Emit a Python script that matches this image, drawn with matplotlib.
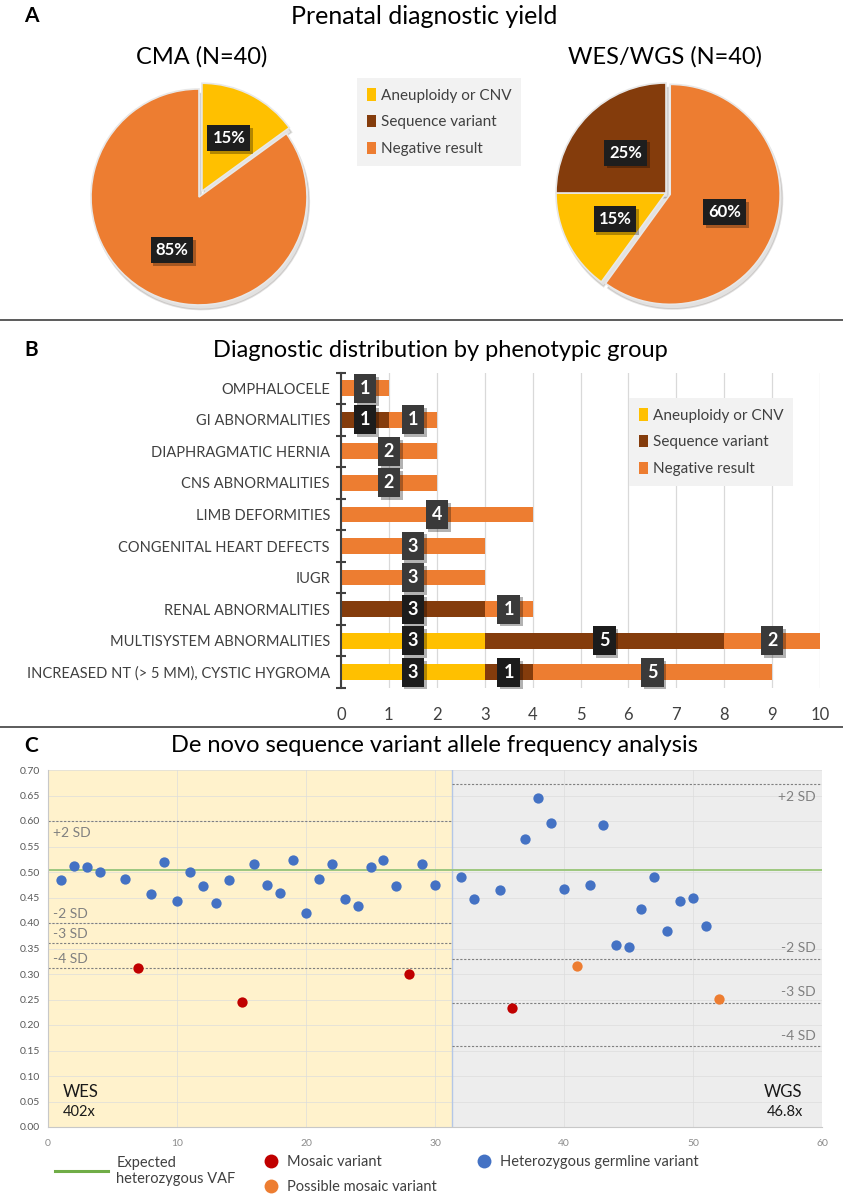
import matplotlib
matplotlib.use("Agg")
import matplotlib.pyplot as plt
import matplotlib.patheffects as pe
from matplotlib.lines import Line2D
from matplotlib.patches import Patch

plt.rcParams["font.family"] = ["Lato", "DejaVu Sans"]

YELLOW = "#FFC000"
BROWN = "#843C0C"
ORANGE = "#ED7D31"
TXT = "#404040"
W, H = 843, 1200

# ---- data -------------------------------------------------------------
RESULTS = ["Aneuploidy or CNV", "Sequence variant", "Negative result"]
RESULT_COLORS = [YELLOW, BROWN, ORANGE]
CMA_COUNTS = [6, 0, 34]      # N=40
WES_COUNTS = [6, 10, 24]     # N=40

GROUPS = ["OMPHALOCELE", "GI ABNORMALITIES", "DIAPHRAGMATIC HERNIA",
          "CNS ABNORMALITIES", "LIMB DEFORMITIES", "CONGENITAL HEART DEFECTS",
          "IUGR", "RENAL ABNORMALITIES", "MULTISYSTEM ABNORMALITIES",
          "INCREASED NT (> 5 MM), CYSTIC HYGROMA"]
ANEU = [0, 0, 0, 0, 0, 0, 0, 0, 3, 3]
SEQ = [0, 1, 0, 0, 0, 0, 0, 3, 5, 1]
NEG = [1, 1, 2, 2, 4, 3, 3, 1, 2, 5]

WES_GERM_X = [1, 2, 3, 4, 6, 8, 9, 10, 11, 12, 13, 14, 16, 17, 18, 19, 20,
              21, 22, 23, 24, 25, 26, 27, 29, 30]
WES_GERM_Y = [0.484, 0.512, 0.510, 0.500, 0.486, 0.457, 0.520, 0.443, 0.500,
              0.472, 0.439, 0.485, 0.515, 0.474, 0.459, 0.523, 0.419, 0.486,
              0.516, 0.447, 0.433, 0.510, 0.524, 0.472, 0.516, 0.474]
WES_MOS_X = [7, 15, 28]
WES_MOS_Y = [0.311, 0.246, 0.300]
WGS_GERM_X = [32, 33, 35, 37, 38, 39, 40, 42, 43, 44, 45, 46, 47, 48, 49, 50, 51]
WGS_GERM_Y = [0.490, 0.447, 0.465, 0.565, 0.645, 0.597, 0.466, 0.474, 0.592,
              0.357, 0.353, 0.428, 0.490, 0.384, 0.444, 0.450, 0.394]
WGS_MOS_X = [36]
WGS_MOS_Y = [0.233]
WGS_POSS_X = [41, 52]
WGS_POSS_Y = [0.315, 0.251]

EXPECTED_VAF = 0.503
SPLIT = 31.3
WES_SD = [("+2 SD", 0.600), ("-2 SD", 0.400), ("-3 SD", 0.360), ("-4 SD", 0.312)]
WGS_SD = [("+2 SD", 0.672), ("-2 SD", 0.330), ("-3 SD", 0.244), ("-4 SD", 0.159)]


def fx(px):
    return px / W


def fy(py):
    return 1 - py / H


def box_shadow(t):
    t.get_bbox_patch().set_path_effects(
        [pe.withSimplePatchShadow(offset=(2, -2), shadow_rgbFace="#000000", alpha=0.3), pe.Normal()])


fig = plt.figure(figsize=(W / 100, H / 100), dpi=100)
fig.patch.set_facecolor("white")

# ---- panel A ----------------------------------------------------------
fig.text(fx(24), fy(16), "A", fontsize=15, fontweight="bold", va="center")
fig.text(fx(424), fy(16), "Prenatal diagnostic yield", fontsize=18, va="center", ha="center")


def draw_pie(ax, order, counts, explode_idx, expl, pctd):
    vals = [counts[i] for i in order]
    cols = [RESULT_COLORS[i] for i in order]
    ex = [expl if i == explode_idx else 0 for i in order]
    wedges, _, autos = ax.pie(vals, colors=cols, startangle=90, counterclock=False,
                              explode=ex, autopct=lambda p: f"{p:.0f}%", pctdistance=pctd,
                              wedgeprops=dict(edgecolor="#e8e8e8", linewidth=1.2),
                              shadow=dict(ox=0.015, oy=-0.03, shade=0.9, alpha=0.12))
    for t in autos:
        t.set_color("white")
        t.set_fontsize(12)
        t.set_fontweight("bold")
        t.set_bbox(dict(boxstyle="square,pad=0.3", facecolor="#1e1e1e", edgecolor="none"))
        box_shadow(t)
    ax.set_xlim(-1.1, 1.1)
    ax.set_ylim(-1.1, 1.1)
    ax.set_aspect("equal")
    ax.axis("off")


r1 = 108
ax_cma = fig.add_axes([fx(199 - 1.1 * r1), fy(197 + 1.1 * r1), fx(2.2 * r1), 2.2 * r1 / H])
draw_pie(ax_cma, [0, 2], CMA_COUNTS, 0, 0.06, 0.55)
fig.text(fx(202), fy(57), "CMA (N=40)", fontsize=17, ha="center", va="center")

r2 = 110
ax_wes = fig.add_axes([fx(666 - 1.1 * r2), fy(193 + 1.1 * r2), fx(2.2 * r2), 2.2 * r2 / H])
draw_pie(ax_wes, [2, 0, 1], WES_COUNTS, 2, 0.04, 0.52)
fig.text(fx(665), fy(57), "WES/WGS (N=40)", fontsize=17, ha="center", va="center")

sq_handles = [Patch(facecolor=c, edgecolor="none") for c in RESULT_COLORS]
sq_kw = dict(loc="upper left", fontsize=11, frameon=True, facecolor="#f2f2f2", edgecolor="none",
             fancybox=False, framealpha=1, handlelength=0.6, handleheight=0.9,
             handletextpad=0.3, labelspacing=0.8, borderpad=0.65, borderaxespad=0,
             labelcolor=TXT)
fig.legend(sq_handles, RESULTS, bbox_to_anchor=(fx(357), fy(78)), **sq_kw)

fig.add_artist(Line2D([0, 1], [fy(320), fy(320)], color="#404040", lw=1.2,
                      transform=fig.transFigure))

# ---- panel B ----------------------------------------------------------
fig.text(fx(24), fy(350), "B", fontsize=15, fontweight="bold", va="center")
fig.text(fx(440), fy(350), "Diagnostic distribution by phenotypic group",
         fontsize=17, ha="center", va="center")

ax_b = fig.add_axes([fx(341), fy(688), fx(820 - 341), (688 - 372.5) / H])
ypos = list(range(len(GROUPS)))
left = [0] * len(GROUPS)
series = [(ANEU, YELLOW, "#1c1c1c"), (SEQ, BROWN, "#1c1c1c"), (NEG, ORANGE, "#3a3a3a")]
for vals, col, boxcol in series:
    ax_b.barh(ypos, vals, left=left, color=col, height=0.5, zorder=2)
    for y, v, l in zip(ypos, vals, left):
        if v > 0:
            t = ax_b.text(l + v / 2, y, str(v), color="white", fontsize=13, fontweight="bold",
                          ha="center", va="center", zorder=4,
                          bbox=dict(boxstyle="square,pad=0.33", facecolor=boxcol, edgecolor="none"))
            box_shadow(t)
    left = [a + b for a, b in zip(left, vals)]

ax_b.set_xlim(0, 10)
ax_b.set_ylim(len(GROUPS) - 0.5, -0.5)
ax_b.set_yticks(ypos)
ax_b.set_yticklabels(GROUPS, fontsize=10.5, color=TXT)
ax_b.set_yticks([k - 0.5 for k in range(len(GROUPS) + 1)], minor=True)
ax_b.tick_params(axis="y", which="major", length=0, pad=8)
ax_b.tick_params(axis="y", which="minor", length=7, width=1.5, color="#404040", direction="inout")
ax_b.set_xticks(range(0, 11))
ax_b.tick_params(axis="x", length=0, labelsize=12, labelcolor=TXT, pad=14)
ax_b.grid(axis="x", color="#d9d9d9", lw=0.9, zorder=0)
ax_b.set_axisbelow(True)
for s in ["top", "right", "bottom"]:
    ax_b.spines[s].set_visible(False)
ax_b.spines["left"].set_color("#404040")
ax_b.spines["left"].set_linewidth(1.5)
ax_b.spines["left"].set_zorder(3)

fig.legend(sq_handles, RESULTS, bbox_to_anchor=(fx(629), fy(398)), **sq_kw)

fig.add_artist(Line2D([0, 1], [fy(727), fy(727)], color="#404040", lw=1.2,
                      transform=fig.transFigure))

# ---- panel C ----------------------------------------------------------
fig.text(fx(24), fy(746), "C", fontsize=15, fontweight="bold", va="center")
fig.text(fx(434), fy(745), "De novo sequence variant allele frequency analysis",
         fontsize=17, ha="center", va="center")

ax_c = fig.add_axes([fx(48), fy(1127), fx(822 - 48), (1127 - 770) / H])
ax_c.set_xlim(0, 60)
ax_c.set_ylim(0, 0.70)
ax_c.axvspan(0, SPLIT, color="#FFF2CC", zorder=0, lw=0)
ax_c.axvspan(SPLIT, 60, color="#EDEDED", zorder=0, lw=0)
ax_c.axvline(SPLIT, color="#b4c7e7", lw=1, zorder=0.6)
ax_c.set_xticks(range(0, 61, 10))
ax_c.set_yticks([i * 0.05 for i in range(15)])
ax_c.set_yticklabels([f"{i * 0.05:.2f}" for i in range(15)])
ax_c.grid(True, color="#dcdcdc", lw=0.6, alpha=0.8)
ax_c.set_axisbelow(True)
ax_c.tick_params(axis="y", length=0, labelsize=7.5, labelcolor="#595959", pad=6)
ax_c.tick_params(axis="x", length=0, labelsize=7.5, labelcolor="#8c8c8c", pad=9)
for s in ["top", "right"]:
    ax_c.spines[s].set_visible(False)
for s in ["left", "bottom"]:
    ax_c.spines[s].set_color("#c8c8c8")
    ax_c.spines[s].set_linewidth(0.8)

GREEN = "#9DC77F"
ax_c.axhline(EXPECTED_VAF, color=GREEN, lw=1.4, zorder=1)
for lab, v in WES_SD:
    ax_c.plot([0, SPLIT], [v, v], color="#7f7f7f", lw=0.8, ls=(0, (2, 1.5)), zorder=1)
    dy = -0.023 if lab.startswith("+") else 0.018
    ax_c.text(0.4, v + dy, lab, fontsize=10, color="#808080", ha="left", va="center")
for lab, v in WGS_SD:
    ax_c.plot([SPLIT, 60], [v, v], color="#7f7f7f", lw=0.8, ls=(0, (2, 1.5)), zorder=1)
    dy = -0.024 if lab.startswith("+") else 0.020
    ax_c.text(59.5, v + dy, lab, fontsize=10, color="#808080", ha="right", va="center")

BLUE = "#4472C4"
RED = "#C00000"
ax_c.scatter(WES_GERM_X + WGS_GERM_X, WES_GERM_Y + WGS_GERM_Y, s=55, color=BLUE, zorder=3, lw=0)
ax_c.scatter(WES_MOS_X + WGS_MOS_X, WES_MOS_Y + WGS_MOS_Y, s=55, color=RED, zorder=3, lw=0)
ax_c.scatter(WGS_POSS_X, WGS_POSS_Y, s=55, color=ORANGE, zorder=3, lw=0)

ax_c.text(1.15, 0.068, "WES", fontsize=12, color="#1a1a1a", ha="left", va="center")
ax_c.text(1.15, 0.029, "402x", fontsize=10.5, color="#1a1a1a", ha="left", va="center")
ax_c.text(58.5, 0.068, "WGS", fontsize=12, color="#1a1a1a", ha="right", va="center")
ax_c.text(58.5, 0.029, "46.8x", fontsize=10.5, color="#1a1a1a", ha="right", va="center")

leg_kw = dict(frameon=False, fontsize=10.5, labelcolor=TXT, handletextpad=0.6,
              borderpad=0, borderaxespad=0)
fig.legend([Line2D([], [], color="#70AD47", lw=2.2)], ["Expected\nheterozygous VAF"],
           loc="center left", bbox_to_anchor=(fx(55), fy(1171)), handlelength=3.6, **leg_kw)
fig.legend([Line2D([], [], ls="none", marker="o", ms=10, mec="none", mfc=c) for c in (RED, ORANGE)],
           ["Mosaic variant", "Possible mosaic variant"],
           loc="upper left", bbox_to_anchor=(fx(264), fy(1155)), labelspacing=0.75,
           handlelength=1.0, **leg_kw)
fig.legend([Line2D([], [], ls="none", marker="o", ms=10, mec="none", mfc=BLUE)],
           ["Heterozygous germline variant"],
           loc="upper left", bbox_to_anchor=(fx(477), fy(1155)), handlelength=1.0, **leg_kw)

fig.savefig("out.png", dpi=100, facecolor="white")
